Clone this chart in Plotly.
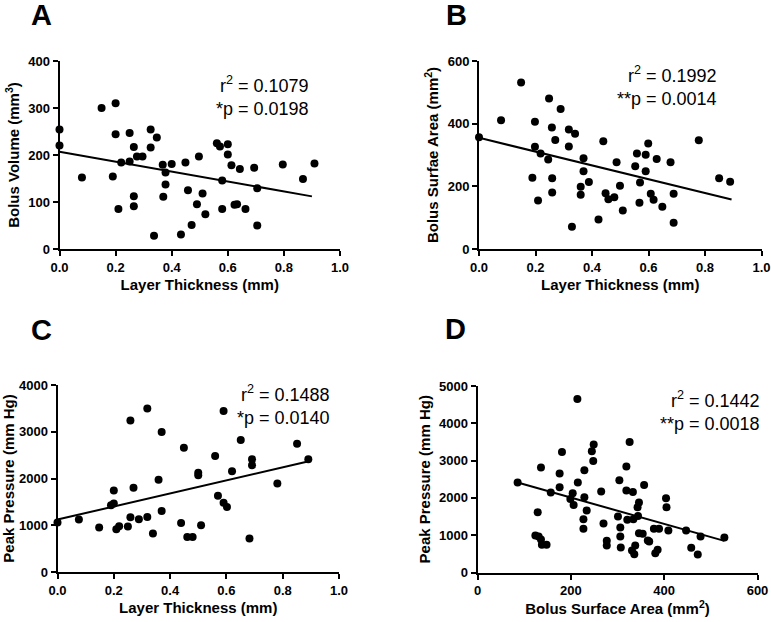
import plotly.graph_objects as go

# ---------------- data ----------------
# Panel A: Layer thickness (mm) vs Bolus volume (mm^3)
a_x = [0.0, 0.0, 0.08, 0.15, 0.20, 0.20, 0.19, 0.21, 0.22, 0.25, 0.25, 0.265, 0.265, 0.265,
       0.276, 0.296, 0.325, 0.325, 0.347, 0.337, 0.368, 0.37, 0.378, 0.378, 0.40, 0.433,
       0.449, 0.458, 0.471, 0.49, 0.497, 0.51, 0.52, 0.561, 0.572, 0.58, 0.58, 0.60, 0.60,
       0.613, 0.624, 0.633, 0.643, 0.663, 0.694, 0.705, 0.705, 0.796, 0.868, 0.909]
a_y = [254, 220, 152, 300, 310, 244, 154, 85, 184, 247, 186, 217, 112, 91,
       197, 197, 254, 216, 237, 28, 179, 111, 163, 137, 181, 31,
       184, 125, 51, 95, 197, 118, 74, 225, 218, 146, 85, 223, 201,
       178, 94, 95, 170, 85, 173, 129, 50, 180, 149, 182]
a_fit_x = [0.0, 0.90]
a_fit_y = [207, 112]

# Panel B: Layer thickness (mm) vs Bolus surface area (mm^2)
b_x = [0.0, 0.078, 0.149, 0.198, 0.198, 0.189, 0.209, 0.218, 0.248, 0.245, 0.258, 0.259,
       0.259, 0.27, 0.289, 0.318, 0.318, 0.34, 0.329, 0.37, 0.37, 0.36, 0.36, 0.389, 0.423,
       0.44, 0.448, 0.458, 0.479, 0.487, 0.499, 0.509, 0.553, 0.559, 0.57, 0.568, 0.59,
       0.59, 0.599, 0.608, 0.618, 0.629, 0.649, 0.678, 0.689, 0.689, 0.778, 0.85, 0.889]
b_y = [357, 411, 531, 406, 326, 227, 155, 305, 480, 286, 388, 226,
       180, 348, 447, 381, 327, 368, 71, 290, 248, 199, 173, 214, 94,
       344, 178, 159, 165, 277, 202, 123, 264, 305, 212, 148, 301,
       248, 337, 176, 157, 287, 135, 277, 176, 84, 347, 226, 215]
b_fit_x = [0.0, 0.894]
b_fit_y = [355, 158]

# Panel C: Layer thickness (mm) vs Peak pressure (mm Hg)
c_x = [0.0, 0.076, 0.148, 0.19, 0.2, 0.2, 0.209, 0.219, 0.25, 0.259, 0.259, 0.27, 0.289,
       0.319, 0.319, 0.339, 0.359, 0.37, 0.37, 0.439, 0.449, 0.461, 0.48, 0.5, 0.5, 0.51,
       0.56, 0.57, 0.59, 0.59, 0.602, 0.62, 0.651, 0.682, 0.691, 0.691, 0.781, 0.851, 0.891]
c_y = [1057, 1121, 950, 1429, 1464, 1743, 914, 979, 971, 1171, 3243, 1800, 1129,
       1179, 3500, 821, 1971, 1307, 2993, 1050, 2657, 750, 750, 2121, 2071, 1000,
       2479, 1629, 1479, 3443, 1393, 2157, 2821, 714, 2414, 2286, 1893, 2743, 2414]
c_fit_x = [0.0, 0.893]
c_fit_y = [1121, 2371]

# Panel D: Bolus surface area (mm^2) vs Peak pressure (mm Hg)
d_x = [86, 124, 136, 129, 131, 136, 138, 148, 157, 176, 176, 181, 199, 204, 206, 215, 214,
       229, 229, 227, 227, 234, 245, 249, 248, 265, 270, 277, 277, 301, 304, 306, 306, 307,
       319, 319, 321, 326, 331, 333, 334, 336, 338, 343, 344, 346, 346, 357, 354, 365, 368,
       378, 381, 386, 389, 404, 405, 409, 447, 458, 472, 478, 529]
d_y = [2411, 991, 2813, 1616, 964, 884, 741, 741, 2143, 2652, 2286, 3232, 1973, 2125, 1813,
       2411, 4652, 2741, 2018, 1429, 1170, 1661, 3250, 3429, 2991, 2170, 1313, 848, 723,
       1500, 2473, 1205, 964, 670, 2839, 2196, 1411, 3500, 589, 2161, 1429, 491, 723, 1750,
       1518, 1875, 1054, 2348, 1036, 857, 830, 1170, 518, 607, 1170, 1991, 1750, 1125, 1125,
       661, 482, 964, 938]
d_fit_x = [86, 529]
d_fit_y = [2411, 848]

panel_letters = ["A", "B", "C", "D"]
stats_text = ["r<sup>2</sup> = 0.1079<br>*p = 0.0198",
              "r<sup>2</sup> = 0.1992<br>**p = 0.0014",
              "r<sup>2</sup> = 0.1488<br>*p = 0.0140",
              "r<sup>2</sup> = 0.1442<br>**p = 0.0018"]
x_titles = ["Layer Thickness (mm)", "Layer Thickness (mm)",
            "Layer Thickness (mm)", "Bolus Surface Area (mm<sup>2</sup>)"]
y_titles = ["Bolus Volume (mm<sup>3</sup>)", "Bolus Surfae Area (mm<sup>2</sup>)",
            "Peak Pressure (mm Hg)", "Peak Pressure (mm Hg)"]

# ---------------- layout helpers ----------------
W, H = 771, 622
FONT = "Liberation Sans, Arial, sans-serif"

def px_x(p):
    return p / W

def px_y(p):
    return 1 - p / H

panels = [
    dict(x=a_x, y=a_y, fx=a_fit_x, fy=a_fit_y, xd=(59.5, 340), yd=(61, 249),
         xr=[0, 1], xdt=0.2, xfmt=".1f", yr=[0, 400], ydt=100, tpos=(311, 96), lpos=(41, 15)),
    dict(x=b_x, y=b_y, fx=b_fit_x, fy=b_fit_y, xd=(479, 761.5), yd=(61, 249),
         xr=[0, 1], xdt=0.2, xfmt=".1f", yr=[0, 600], ydt=200, tpos=(719, 86), lpos=(456, 15)),
    dict(x=c_x, y=c_y, fx=c_fit_x, fy=c_fit_y, xd=(57.5, 339), yd=(385, 572),
         xr=[0, 1], xdt=0.2, xfmt=".1f", yr=[0, 4000], ydt=1000, tpos=(332, 405), lpos=(41, 330)),
    dict(x=d_x, y=d_y, fx=d_fit_x, fy=d_fit_y, xd=(477.5, 757.5), yd=(386, 572.5),
         xr=[0, 600], xdt=200, xfmt="d", yr=[0, 5000], ydt=1000, tpos=(762, 411), lpos=(455, 329)),
]

fig = go.Figure()
layout = dict(
    width=W, height=H,
    margin=dict(l=0, r=0, t=0, b=0),
    paper_bgcolor="white", plot_bgcolor="white",
    showlegend=False,
    font=dict(family=FONT, color="black"),
)
annotations = []

for i, p in enumerate(panels):
    n = i + 1
    xa = "x" if n == 1 else f"x{n}"
    ya = "y" if n == 1 else f"y{n}"
    xkey = "xaxis" if n == 1 else f"xaxis{n}"
    ykey = "yaxis" if n == 1 else f"yaxis{n}"

    fig.add_trace(go.Scatter(
        x=p["x"], y=p["y"], mode="markers", xaxis=xa, yaxis=ya,
        marker=dict(color="black", size=8), cliponaxis=False, hoverinfo="x+y"))
    fig.add_trace(go.Scatter(
        x=p["fx"], y=p["fy"], mode="lines", xaxis=xa, yaxis=ya,
        line=dict(color="black", width=2), cliponaxis=False, hoverinfo="skip"))

    common = dict(showline=True, linecolor="black", linewidth=2, ticks="outside",
                  ticklen=5, tickwidth=2, tickcolor="black", showgrid=False,
                  zeroline=False, automargin=False,
                  tickfont=dict(family=FONT, size=13, color="black", weight="bold"))
    layout[xkey] = dict(common, domain=[px_x(p["xd"][0]), px_x(p["xd"][1])],
                        range=p["xr"], dtick=p["xdt"], tick0=0, tickformat=p["xfmt"],
                        anchor=ya,
                        title=dict(text=x_titles[i], standoff=6,
                                   font=dict(family=FONT, size=15, color="black", weight="bold")))
    layout[ykey] = dict(common, domain=[px_y(p["yd"][1]), px_y(p["yd"][0])],
                        range=p["yr"], dtick=p["ydt"], tick0=0,
                        anchor=xa,
                        title=dict(text=y_titles[i], standoff=5,
                                   font=dict(family=FONT, size=15, color="black", weight="bold")))

    annotations.append(dict(
        text=stats_text[i], xref="paper", yref="paper",
        x=px_x(p["tpos"][0]), y=px_y(p["tpos"][1]), xanchor="right", yanchor="middle",
        align="right", showarrow=False,
        font=dict(family=FONT, size=18, color="black")))
    annotations.append(dict(
        text=panel_letters[i], xref="paper", yref="paper",
        x=px_x(p["lpos"][0]), y=px_y(p["lpos"][1]), xanchor="center", yanchor="middle",
        showarrow=False,
        font=dict(family=FONT, size=29, color="black", weight="bold")))

layout["annotations"] = annotations
fig.update_layout(**layout)
fig.write_html("out.html", config={"displayModeBar": False},
               post_script="document.body.style.margin='0';document.body.style.padding='0';")
